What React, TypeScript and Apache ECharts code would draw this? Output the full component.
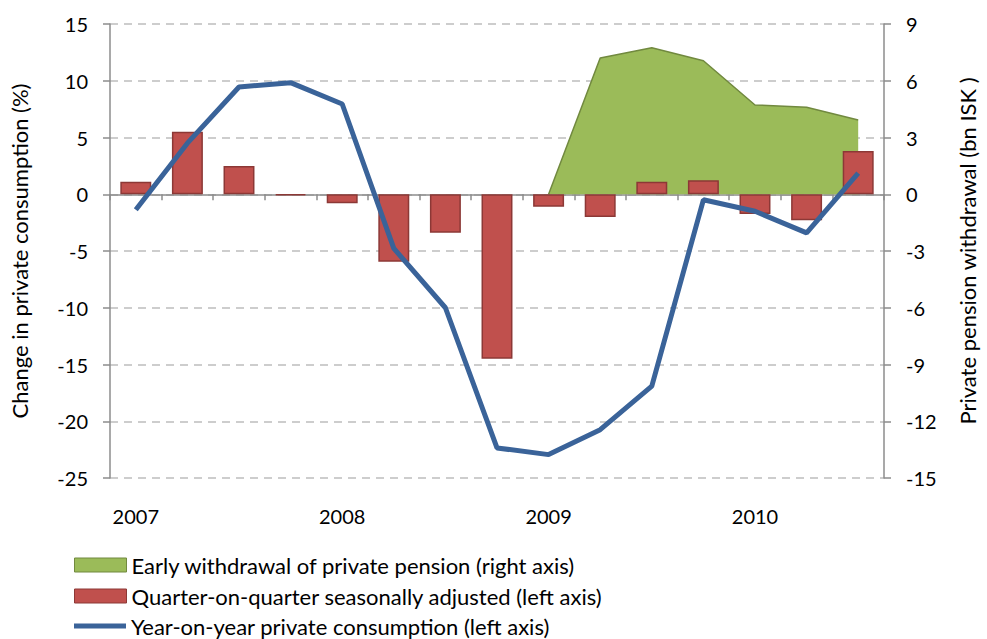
import React, { useEffect, useRef } from "react";
import * as echarts from "echarts";

const quarters = [
  "2007Q1", "2007Q2", "2007Q3", "2007Q4",
  "2008Q1", "2008Q2", "2008Q3", "2008Q4",
  "2009Q1", "2009Q2", "2009Q3", "2009Q4",
  "2010Q1", "2010Q2", "2010Q3",
];
const pensionWithdrawal: (number | null)[] = [
  null, null, null, null, null, null, null, null,
  0, 7.2, 7.74, 7.06, 4.72, 4.6, 3.93,
];
const qoqAdjusted = [1.1, 5.5, 2.5, -0.1, -0.8, -5.95, -3.4, -14.5, -1.1, -2.0, 1.1, 1.24, -1.73, -2.3, 3.82];
const yoyConsumption = [-1.37, 4.5, 9.45, 9.83, 7.95, -4.77, -10.0, -22.35, -22.94, -20.74, -16.9, -0.49, -1.5, -3.4, 1.86];

const leftTicks = { min: -25, max: 15, interval: 5 };
const rightTicks = { min: -15, max: 9, interval: 3 };

const seriesNames = [
  "Early withdrawal of private pension (right axis)",
  "Quarter-on-quarter seasonally adjusted (left axis)",
  "Year-on-year private consumption (left axis)",
];

const FONT = "Lato";
const GREEN = "#9BBB59";
const GREEN_DARK = "#71893F";
const RED = "#C0504D";
const RED_DARK = "#8C3836";
const BLUE = "#3A6399";
const AXIS = "#8C8C8C";

export default function App() {
  const ref = useRef<HTMLDivElement>(null);
  useEffect(() => {
    if (!ref.current) return;
    const chart = echarts.init(ref.current, undefined, { renderer: "svg" });
    const tickText = { fontFamily: FONT, fontSize: 20, color: "#000" };
    const bigText = { fontFamily: FONT, fontSize: 22, color: "#000" };
    const legendItems = [
      { name: seriesNames[0], icon: "rect", itemStyle: { color: GREEN, borderColor: GREEN_DARK, borderWidth: 1 } },
      { name: seriesNames[1], icon: "rect", itemStyle: { color: RED, borderColor: RED_DARK, borderWidth: 1 } },
      { name: seriesNames[2], icon: "path://M0,0 H52 V5 H0 Z", itemStyle: { color: BLUE, borderWidth: 0 } },
    ];
    const legendTops = [554, 585, 615];
    chart.setOption({
      animation: false,
      textStyle: { fontFamily: FONT },
      grid: { left: 110, right: 103, top: 24, bottom: 161, containLabel: false, outerBoundsMode: "none" },
      legend: legendItems.map((item, i) => ({
        orient: "vertical",
        left: 74,
        top: legendTops[i],
        padding: 0,
        itemWidth: 52,
        itemHeight: 14,
        selectedMode: false,
        textStyle: { ...bigText, lineHeight: 20 },
        data: [item],
      })),
      xAxis: [
        {
          type: "category",
          data: quarters,
          axisLine: { show: true, onZero: true, lineStyle: { color: AXIS, width: 1.5 } },
          axisTick: { show: true, interval: 0, alignWithLabel: false, length: 6, lineStyle: { color: AXIS, width: 1.5 } },
          axisLabel: { show: false },
          splitLine: { show: false },
        },
        {
          type: "category",
          data: quarters,
          position: "bottom",
          axisLine: { show: false, onZero: false },
          axisTick: { show: false },
          axisLabel: {
            ...tickText,
            interval: 0,
            margin: 28,
            formatter: (v: string) => (v.endsWith("Q1") ? v.slice(0, 4) : ""),
          },
          splitLine: { show: false },
        },
      ],
      yAxis: [
        {
          type: "value",
          ...leftTicks,
          name: "Change in private consumption (%)",
          nameLocation: "middle",
          nameGap: 80,
          nameRotate: 90,
          nameTextStyle: bigText,
          axisLine: { show: true, lineStyle: { color: AXIS, width: 1.5 } },
          axisTick: { show: true, length: 7, lineStyle: { color: AXIS, width: 1.5 } },
          axisLabel: { ...tickText, margin: 22 },
          splitLine: { show: true, lineStyle: { color: "#BDBDBD", width: 1.5, type: [8, 6] } },
        },
        {
          type: "value",
          ...rightTicks,
          position: "right",
          name: "Private pension withdrawal (bn ISK )",
          nameLocation: "middle",
          nameGap: 72,
          nameRotate: 90,
          nameTextStyle: bigText,
          axisLine: { show: true, lineStyle: { color: AXIS, width: 1.5 } },
          axisTick: { show: true, length: 7, lineStyle: { color: AXIS, width: 1.5 } },
          axisLabel: { ...tickText, margin: 22 },
          splitLine: { show: false },
        },
      ],
      series: [
        {
          name: seriesNames[0],
          type: "line",
          xAxisIndex: 0,
          yAxisIndex: 1,
          data: pensionWithdrawal,
          symbol: "none",
          lineStyle: { color: GREEN_DARK, width: 1.5 },
          itemStyle: { color: GREEN },
          areaStyle: { color: GREEN, opacity: 1 },
          z: 1,
        },
        {
          name: seriesNames[1],
          type: "bar",
          xAxisIndex: 0,
          yAxisIndex: 0,
          data: qoqAdjusted,
          barWidth: "60%",
          itemStyle: { color: RED, borderColor: RED_DARK, borderWidth: 1.5 },
          z: 2,
        },
        {
          name: seriesNames[2],
          type: "line",
          xAxisIndex: 0,
          yAxisIndex: 0,
          data: yoyConsumption,
          symbol: "none",
          lineStyle: { color: BLUE, width: 5 },
          itemStyle: { color: BLUE },
          z: 3,
        },
      ],
    });
    return () => chart.dispose();
  }, []);
  return <div ref={ref} style={{ width: 987, height: 639, position: "absolute", left: 0, top: 0 }} />;
}
